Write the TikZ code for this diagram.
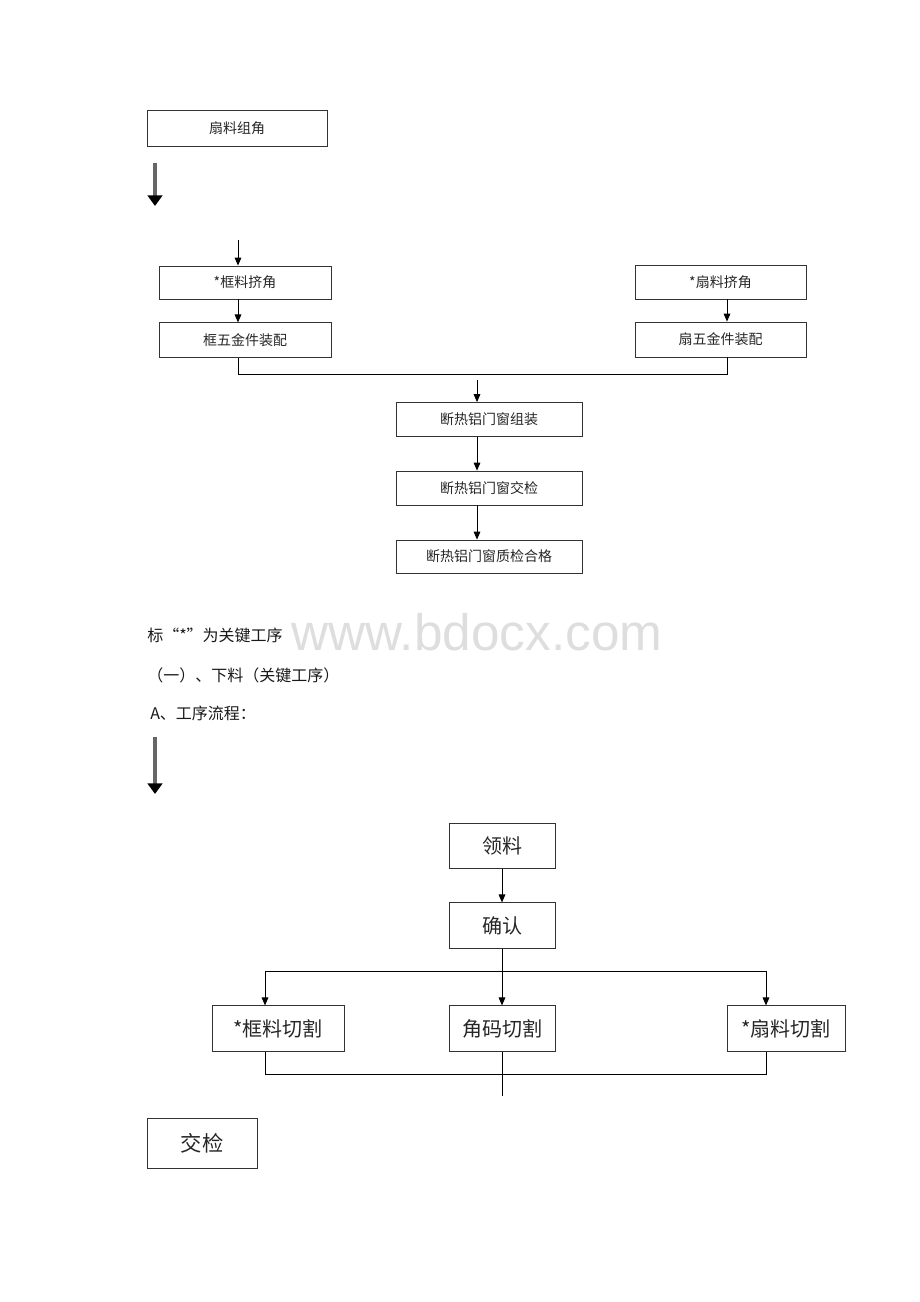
\documentclass[tikz,border=0pt]{standalone}
\usepackage{fontspec}
\setmainfont{Liberation Serif}
\newfontfamily\cjk{Noto Sans CJK SC}
\newfontfamily\wmfont{Liberation Sans}
\usetikzlibrary{positioning, arrows.meta}
\tikzset{
  smallbox/.style={draw=black!80, rectangle, line width=0.6pt, inner sep=0pt, minimum width=129pt, minimum height=25.5pt, align=center, text=black!85, font=\cjk\fontsize{10.5}{12}\selectfont},
  midbox/.style={smallbox, minimum width=139.5pt},
  bigbox/.style={draw=black!80, rectangle, line width=0.6pt, inner sep=0pt, minimum height=34pt, align=center, text=black!85, font=\cjk\fontsize{15}{18}\selectfont},
  textline/.style={anchor=west, inner sep=0pt, text=black!90, font=\cjk\fontsize{12}{14}\selectfont},
  arrow/.style={-{Triangle[width=5pt,length=6pt]}, line width=0.7pt},
  line/.style={line width=0.7pt},
  bigarrow/.style={-{Triangle[width=11pt,length=8pt,color=black]}, line width=2.6pt, draw=black!60}
}
\begin{document}
\begin{tikzpicture}[x=0.75pt, y=-0.75pt]
\useasboundingbox (0,0) rectangle (920,1302);

% Watermark
\node[text=black!13, font=\wmfont\fontsize{38.5}{44}\selectfont, inner sep=0pt] (wm) at (477,632) {www.bdocx.com};

% Upper part
\node[smallbox, minimum width=135pt, minimum height=27pt] (fanzj) at (237,128) {扇料组角};
\coordinate (ba1) at (155,163);
\coordinate (ba2) at (155,206);
\draw[bigarrow] (ba1) -- (ba2);

\node[smallbox, minimum height=24.75pt] (kkj) at (245,282.5) {*框料挤角};
\node[smallbox, below=17.25pt of kkj, minimum height=26.25pt] (kwj) {框五金件装配};
\node[smallbox, minimum width=128.25pt] (skj) at (720.5,282) {*扇料挤角};
\node[smallbox, minimum width=128.25pt, minimum height=26.25pt] (swj) at (720.5,339.5) {扇五金件装配};

\coordinate (kx) at (238,0);
\coordinate (sx) at (727,0);
\coordinate (kin) at (238,240);
\draw[arrow] (kin) -- (kx |- kkj.north);
\draw[arrow] (kx |- kkj.south) -- (kx |- kwj.north);
\draw[arrow] (sx |- skj.south) -- (sx |- swj.north);
\draw[line] (kx |- kwj.south) -- (238,374) -- (727,374) -- (sx |- swj.south);

\node[midbox] (dzz) at (489,419.5) {断热铝门窗组装};
\node[midbox] (djj) at (489,488) {断热铝门窗交检};
\node[midbox, minimum height=24.75pt] (dhg) at (489,556.5) {断热铝门窗质检合格};

\coordinate (dx) at (477,0);
\coordinate (din) at (477,380);
\draw[arrow] (din) -- (dx |- dzz.north);
\draw[arrow] (dx |- dzz.south) -- (dx |- djj.north);
\draw[arrow] (dx |- djj.south) -- (dx |- dhg.north);

% Text lines
\node[textline] (t1) at (147,635) {标“*”为关键工序};
\node[textline] (t2) at (147,675) {（一）、下料（关键工序）};
\node[textline] (t3) at (150,713) {A、工序流程：};
\coordinate (bb1) at (155,737);
\coordinate (bb2) at (155,794);
\draw[bigarrow] (bb1) -- (bb2);

% Lower part
\node[bigbox, minimum width=79.5pt] (ll) at (502,846) {领料};
\node[bigbox, minimum width=79.5pt] (qr) at (502,925.5) {确认};
\node[bigbox, minimum width=99pt] (kqg) at (278,1028.5) {*框料切割};
\node[bigbox, minimum width=79.5pt] (jmq) at (502,1028.5) {角码切割};
\node[bigbox, minimum width=88.5pt] (sqg) at (786,1028.5) {*扇料切割};
\node[bigbox, minimum width=82.5pt, minimum height=37.5pt, font=\cjk\fontsize{16}{19}\selectfont] (jj) at (202,1143) {交检};

\coordinate (lx) at (265,0);
\coordinate (rx) at (766,0);
\coordinate (mend) at (502,1096);
\draw[arrow] (ll) -- (qr);
\draw[line] (qr.south) -- (502,971);
\draw[line] (265,971) -- (766,971);
\draw[arrow] (502,971) -- (jmq.north);
\draw[arrow] (265,971) -- (lx |- kqg.north);
\draw[arrow] (766,971) -- (rx |- sqg.north);
\draw[line] (lx |- kqg.south) -- (265,1074) -- (766,1074) -- (rx |- sqg.south);
\draw[line] (jmq.south) -- (mend);
\end{tikzpicture}
\end{document}
